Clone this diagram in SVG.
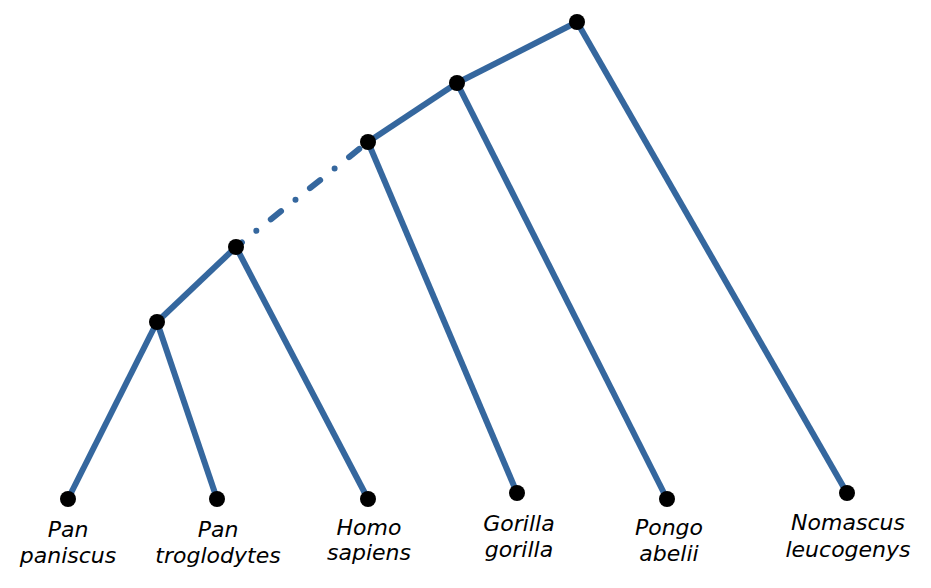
<svg xmlns="http://www.w3.org/2000/svg" width="931" height="588" viewBox="0 0 931 588">
<style>
.e{stroke:#35679e;stroke-width:6;fill:none}
.d{stroke-linecap:round;stroke-dasharray:0 18.5 13 18.5;stroke-dashoffset:24}
.n{fill:#000}
.t{font-family:"DejaVu Sans",sans-serif;font-style:italic;font-size:22px;fill:#000;text-anchor:middle}
</style>
<rect width="931" height="588" fill="#fff"/>
<g id="edges">
<line class="e" x1="577" y1="22" x2="457" y2="83"/>
<line class="e" x1="577" y1="22" x2="847" y2="493"/>
<line class="e" x1="457" y1="83" x2="368" y2="142"/>
<line class="e" x1="457" y1="83" x2="667" y2="499"/>
<line class="e d" x1="236" y1="247" x2="368" y2="142"/>
<line class="e" x1="368" y1="142" x2="517" y2="493"/>
<line class="e" x1="236" y1="247" x2="157" y2="322"/>
<line class="e" x1="236" y1="247" x2="368" y2="499"/>
<line class="e" x1="157" y1="322" x2="68" y2="499"/>
<line class="e" x1="157" y1="322" x2="217" y2="499"/>
</g>
<g id="root"><circle class="n" cx="577" cy="22" r="8"/></g>
<g id="n2"><circle class="n" cx="457" cy="83" r="8"/></g>
<g id="n3"><circle class="n" cx="368" cy="142" r="8"/></g>
<g id="n4"><circle class="n" cx="236" cy="247" r="8"/></g>
<g id="n5"><circle class="n" cx="157" cy="322" r="8"/></g>
<g id="pan_paniscus"><circle class="n" cx="68" cy="499" r="8"/><text class="t" x="68" y="537">Pan</text><text class="t" x="68" y="563">paniscus</text></g>
<g id="pan_troglodytes"><circle class="n" cx="217" cy="499" r="8"/><text class="t" x="218" y="537">Pan</text><text class="t" x="218" y="563">troglodytes</text></g>
<g id="homo_sapiens"><circle class="n" cx="368" cy="499" r="8"/><text class="t" x="369" y="535">Homo</text><text class="t" x="369" y="560">sapiens</text></g>
<g id="gorilla_gorilla"><circle class="n" cx="517" cy="493" r="8"/><text class="t" x="519" y="531">Gorilla</text><text class="t" x="519" y="557">gorilla</text></g>
<g id="pongo_abelii"><circle class="n" cx="667" cy="499" r="8"/><text class="t" x="669" y="535">Pongo</text><text class="t" x="669" y="561">abelii</text></g>
<g id="nomascus_leucogenys"><circle class="n" cx="847" cy="493" r="8"/><text class="t" x="848" y="530">Nomascus</text><text class="t" x="848" y="557">leucogenys</text></g>
</svg>
